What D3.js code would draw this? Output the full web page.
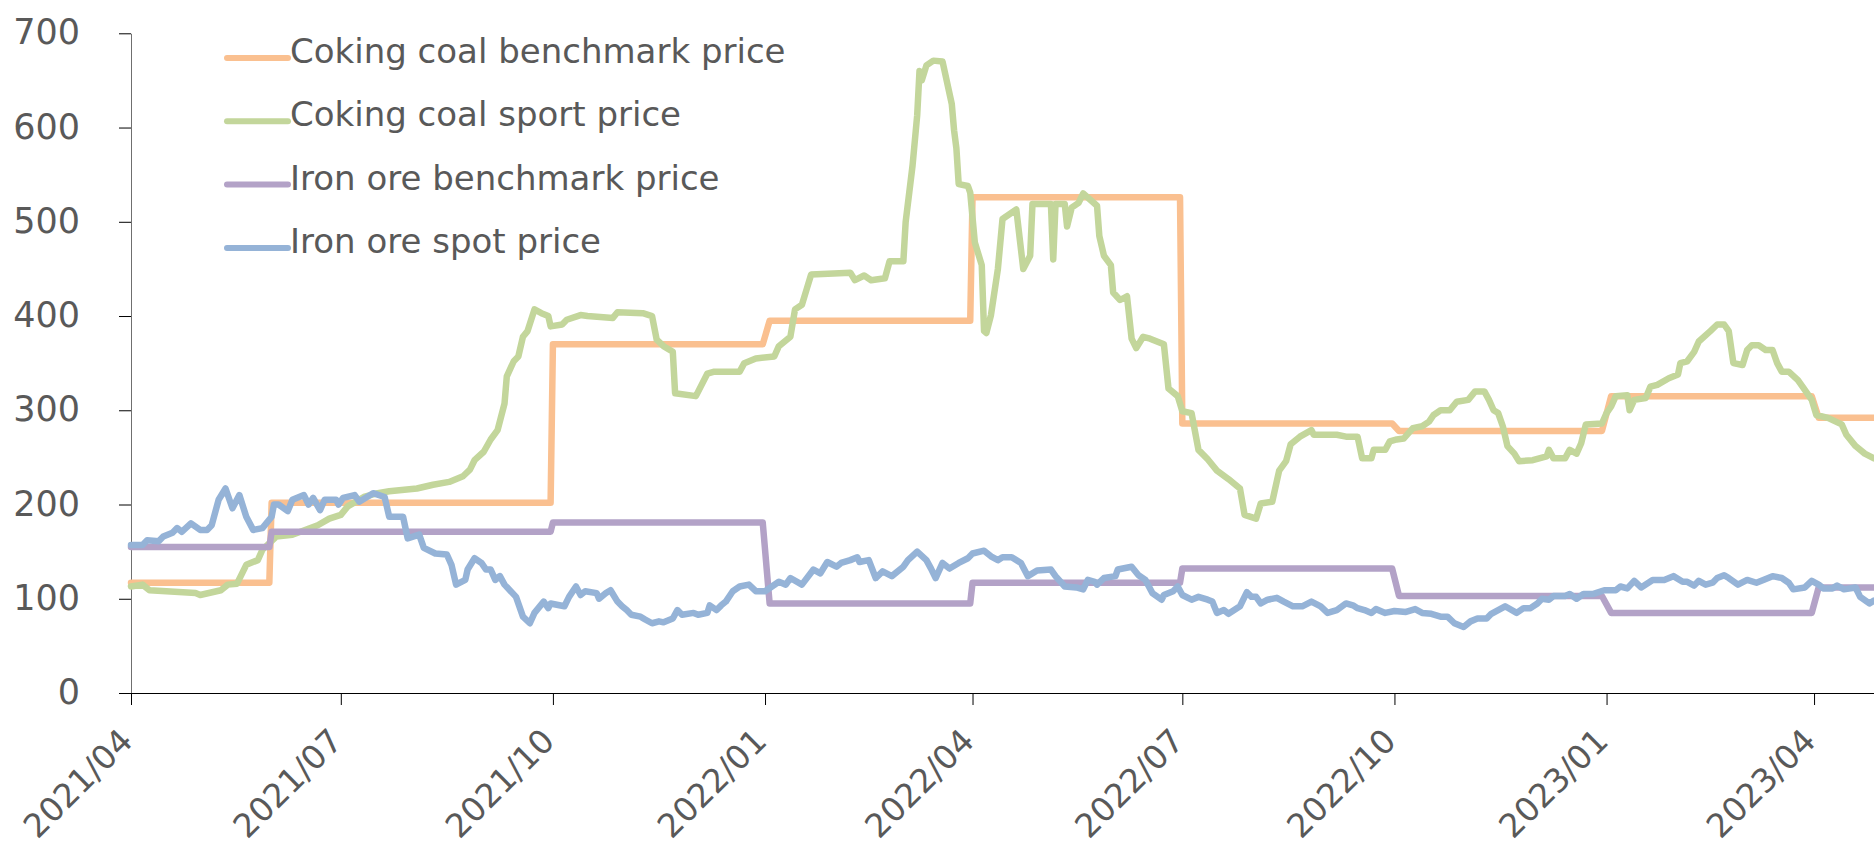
<!DOCTYPE html>
<html>
<head>
<meta charset="utf-8">
<script src="https://cdn.jsdelivr.net/npm/d3@7"></script>
<style>
  body { margin: 0; background: #fff; }
  svg { display: block; }
  .axis text { font-family: "DejaVu Sans", Verdana, sans-serif; font-size: 33px; fill: #595959; }
  .yaxis text { font-size: 35px; }
  .legend text { font-family: "DejaVu Sans", Verdana, sans-serif; font-size: 34px; fill: #595959; }
</style>
</head>
<body>
<svg id="chart"></svg>
<script>
var W = 1874, H = 847;
var m = [33.3, 0, 154, 131]; // top right bottom left

var seriesNames = ["Coking coal benchmark price", "Coking coal sport price",
                   "Iron ore benchmark price", "Iron ore spot price"];
var colors = ["#FAC090", "#C3D69B", "#B3A2C7", "#95B3D7"];
var yTicks = [0, 100, 200, 300, 400, 500, 600, 700];
var xTicks = ["2021-04-01", "2021-07-01", "2021-10-01", "2022-01-01", "2022-04-01",
              "2022-07-01", "2022-10-01", "2023-01-01", "2023-04-01"];
var xDomain = ["2021-04-01", "2023-04-27"];

var cokingBenchmark = [["2021-04-01",117],["2021-05-31",117],["2021-06-01",202],["2021-09-30",202],
  ["2021-10-01",370],["2021-12-31",370],["2022-01-03",395],["2022-03-31",395],["2022-04-01",526],
  ["2022-06-30",526],["2022-07-01",286],["2022-09-30",286],["2022-10-03",278],["2022-12-30",278],
  ["2023-01-03",315],["2023-03-31",315],["2023-04-03",292],["2023-04-27",292]];

var cokingSpot = [["2021-04-01",113],["2021-04-06",115],["2021-04-09",109],["2021-04-29",106],["2021-05-01",104],
  ["2021-05-10",109],["2021-05-13",115],["2021-05-17",116],["2021-05-21",136],["2021-05-26",141],["2021-05-28",152],
  ["2021-06-03",166],["2021-06-10",168],["2021-06-21",178],["2021-06-26",185],["2021-07-01",189],["2021-07-04",198],
  ["2021-07-11",208],["2021-07-17",212],["2021-07-22",214],["2021-08-03",217],["2021-08-10",221],["2021-08-17",224],
  ["2021-08-23",230],["2021-08-26",237],["2021-08-28",247],["2021-09-01",256],["2021-09-04",269],["2021-09-07",279],
  ["2021-09-10",307],["2021-09-11",336],["2021-09-14",352],["2021-09-16",357],["2021-09-18",378],["2021-09-20",384],
  ["2021-09-23",407],["2021-09-26",403],["2021-09-29",400],["2021-09-30",389],["2021-10-05",391],["2021-10-07",396],
  ["2021-10-13",401],["2021-10-16",400],["2021-10-27",398],["2021-10-29",404],["2021-11-09",403],["2021-11-13",400],
  ["2021-11-15",375],["2021-11-18",368],["2021-11-22",362],["2021-11-23",318],["2021-12-02",315],["2021-12-07",339],
  ["2021-12-10",341],["2021-12-21",341],["2021-12-23",350],["2021-12-28",355],["2022-01-05",357],["2022-01-07",368],
  ["2022-01-12",378],["2022-01-14",407],["2022-01-17",412],["2022-01-19",428],["2022-01-21",444],["2022-02-07",446],
  ["2022-02-09",438],["2022-02-13",443],["2022-02-16",438],["2022-02-22",440],["2022-02-24",458],["2022-03-02",458],
  ["2022-03-03",500],["2022-03-06",560],["2022-03-08",613],["2022-03-09",660],["2022-03-10",650],["2022-03-12",666],
  ["2022-03-15",671],["2022-03-19",670],["2022-03-23",625],["2022-03-24",597],["2022-03-25",578],["2022-03-26",540],
  ["2022-03-30",538],["2022-03-31",531],["2022-04-02",478],["2022-04-05",454],["2022-04-06",384],["2022-04-07",382],
  ["2022-04-09",401],["2022-04-12",450],["2022-04-14",503],["2022-04-20",513],["2022-04-23",450],["2022-04-26",464],
  ["2022-04-27",519],["2022-05-05",519],["2022-05-06",460],["2022-05-07",519],["2022-05-11",519],["2022-05-12",495],
  ["2022-05-14",515],["2022-05-17",520],["2022-05-19",530],["2022-05-25",517],["2022-05-26",485],["2022-05-28",464],
  ["2022-05-31",454],["2022-06-01",425],["2022-06-04",417],["2022-06-07",421],["2022-06-09",376],["2022-06-11",366],
  ["2022-06-14",378],["2022-06-17",376],["2022-06-23",370],["2022-06-25",323],["2022-06-29",315],["2022-07-01",299],
  ["2022-07-05",297],["2022-07-08",258],["2022-07-12",248],["2022-07-16",236],["2022-07-21",227],["2022-07-26",217],
  ["2022-07-28",189],["2022-08-02",185],["2022-08-04",201],["2022-08-09",203],["2022-08-12",236],["2022-08-15",246],
  ["2022-08-17",264],["2022-08-21",272],["2022-08-26",279],["2022-08-27",274],["2022-09-06",274],["2022-09-10",272],
  ["2022-09-15",272],["2022-09-17",249],["2022-09-21",249],["2022-09-22",258],["2022-09-27",258],["2022-09-29",267],
  ["2022-10-02",269],["2022-10-05",270],["2022-10-09",281],["2022-10-13",283],["2022-10-16",288],["2022-10-18",295],
  ["2022-10-21",300],["2022-10-25",300],["2022-10-28",309],["2022-11-02",311],["2022-11-05",320],["2022-11-09",320],
  ["2022-11-11",311],["2022-11-13",300],["2022-11-15",297],["2022-11-17",283],["2022-11-19",262],["2022-11-22",254],
  ["2022-11-24",246],["2022-11-30",247],["2022-12-06",251],["2022-12-07",258],["2022-12-09",249],["2022-12-14",249],
  ["2022-12-16",258],["2022-12-19",254],["2022-12-21",265],["2022-12-23",285],["2022-12-30",286],["2023-01-01",297],
  ["2023-01-03",304],["2023-01-05",315],["2023-01-10",316],["2023-01-11",300],["2023-01-13",311],["2023-01-18",313],
  ["2023-01-20",325],["2023-01-23",327],["2023-01-28",334],["2023-02-01",338],["2023-02-02",350],["2023-02-05",352],
  ["2023-02-08",362],["2023-02-10",373],["2023-02-15",384],["2023-02-18",391],["2023-02-21",391],["2023-02-23",384],
  ["2023-02-25",350],["2023-03-01",348],["2023-03-03",364],["2023-03-05",369],["2023-03-08",369],["2023-03-11",364],
  ["2023-03-14",364],["2023-03-16",350],["2023-03-18",341],["2023-03-21",341],["2023-03-25",332],["2023-03-27",325],
  ["2023-03-31",311],["2023-04-02",295],["2023-04-07",292],["2023-04-13",285],["2023-04-15",274],["2023-04-19",262],
  ["2023-04-23",254],["2023-04-27",249]];

var ironBenchmark = [["2021-04-01",155],["2021-05-31",155],["2021-06-01",171],["2021-09-30",171],
  ["2021-10-01",181],["2021-12-31",181],["2022-01-03",95],["2022-03-31",95],["2022-04-01",117],
  ["2022-06-30",117],["2022-07-01",132],["2022-09-30",132],["2022-10-03",103],["2022-12-30",103],
  ["2023-01-03",85],["2023-03-31",85],["2023-04-03",112],["2023-04-27",112]];

var ironSpot = [["2021-04-01",157],["2021-04-06",157],["2021-04-08",162],["2021-04-13",161],["2021-04-15",166],
  ["2021-04-19",170],["2021-04-21",175],["2021-04-23",171],["2021-04-27",180],["2021-05-01",173],["2021-05-04",173],
  ["2021-05-06",178],["2021-05-09",205],["2021-05-12",217],["2021-05-15",196],["2021-05-18",210],["2021-05-21",187],
  ["2021-05-24",173],["2021-05-28",175],["2021-06-01",187],["2021-06-02",200],["2021-06-04",200],["2021-06-08",193],
  ["2021-06-10",205],["2021-06-15",210],["2021-06-17",200],["2021-06-19",207],["2021-06-22",194],["2021-06-24",205],
  ["2021-06-29",205],["2021-06-30",200],["2021-07-02",207],["2021-07-07",210],["2021-07-09",203],["2021-07-15",212],
  ["2021-07-20",208],["2021-07-22",187],["2021-07-28",187],["2021-07-30",164],["2021-08-04",168],["2021-08-06",154],
  ["2021-08-11",148],["2021-08-16",147],["2021-08-18",136],["2021-08-20",115],["2021-08-24",120],["2021-08-25",131],
  ["2021-08-28",143],["2021-08-31",138],["2021-09-02",131],["2021-09-04",131],["2021-09-06",120],["2021-09-08",124],
  ["2021-09-10",115],["2021-09-15",102],["2021-09-18",81],["2021-09-21",74],["2021-09-23",85],["2021-09-27",97],
  ["2021-09-29",90],["2021-09-30",95],["2021-10-06",92],["2021-10-08",102],["2021-10-11",113],["2021-10-13",104],
  ["2021-10-15",108],["2021-10-20",106],["2021-10-21",100],["2021-10-24",106],["2021-10-26",109],["2021-10-29",97],
  ["2021-10-31",92],["2021-11-02",88],["2021-11-04",83],["2021-11-08",81],["2021-11-10",78],["2021-11-13",74],
  ["2021-11-16",76],["2021-11-18",75],["2021-11-22",79],["2021-11-24",88],["2021-11-26",83],["2021-12-01",85],
  ["2021-12-03",83],["2021-12-07",85],["2021-12-08",93],["2021-12-11",88],["2021-12-13",93],["2021-12-15",97],
  ["2021-12-18",108],["2021-12-21",113],["2021-12-25",115],["2021-12-28",108],["2022-01-01",108],["2022-01-04",113],
  ["2022-01-07",118],["2022-01-10",115],["2022-01-12",122],["2022-01-17",115],["2022-01-22",131],["2022-01-25",127],
  ["2022-01-28",139],["2022-02-01",134],["2022-02-03",138],["2022-02-07",141],["2022-02-10",144],["2022-02-11",139],
  ["2022-02-15",141],["2022-02-18",122],["2022-02-21",129],["2022-02-25",124],["2022-03-02",134],["2022-03-04",141],
  ["2022-03-08",150],["2022-03-12",141],["2022-03-14",132],["2022-03-16",122],["2022-03-19",138],["2022-03-22",132],
  ["2022-03-26",138],["2022-03-30",143],["2022-04-01",148],["2022-04-06",151],["2022-04-09",145],["2022-04-12",141],
  ["2022-04-14",144],["2022-04-18",144],["2022-04-22",138],["2022-04-25",124],["2022-04-29",130],["2022-05-05",131],
  ["2022-05-07",124],["2022-05-11",113],["2022-05-16",112],["2022-05-19",110],["2022-05-21",120],["2022-05-24",118],
  ["2022-05-25",115],["2022-05-28",122],["2022-06-02",124],["2022-06-03",131],["2022-06-09",134],["2022-06-12",125],
  ["2022-06-15",120],["2022-06-18",106],["2022-06-22",99],["2022-06-23",104],["2022-06-27",108],["2022-06-29",113],
  ["2022-07-01",104],["2022-07-05",99],["2022-07-08",102],["2022-07-12",99],["2022-07-14",97],["2022-07-16",85],
  ["2022-07-19",88],["2022-07-21",84],["2022-07-26",92],["2022-07-29",107],["2022-07-31",102],["2022-08-02",102],
  ["2022-08-04",95],["2022-08-07",99],["2022-08-11",101],["2022-08-14",97],["2022-08-18",92],["2022-08-22",92],
  ["2022-08-26",97],["2022-08-30",92],["2022-09-02",85],["2022-09-06",88],["2022-09-10",95],["2022-09-13",93],
  ["2022-09-15",90],["2022-09-18",88],["2022-09-21",85],["2022-09-23",89],["2022-09-27",85],["2022-10-01",87],
  ["2022-10-06",86],["2022-10-10",89],["2022-10-13",85],["2022-10-17",84],["2022-10-21",81],["2022-10-24",81],
  ["2022-10-27",74],["2022-10-31",70],["2022-11-03",76],["2022-11-06",79],["2022-11-10",79],["2022-11-12",84],
  ["2022-11-15",88],["2022-11-18",92],["2022-11-23",85],["2022-11-26",90],["2022-11-29",90],["2022-12-02",95],
  ["2022-12-04",100],["2022-12-07",99],["2022-12-09",103],["2022-12-14",103],["2022-12-16",105],["2022-12-19",100],
  ["2022-12-22",105],["2022-12-26",105],["2022-12-31",109],["2023-01-05",109],["2023-01-07",113],["2023-01-10",111],
  ["2023-01-13",119],["2023-01-16",112],["2023-01-21",120],["2023-01-26",120],["2023-01-30",124],["2023-02-03",118],
  ["2023-02-05",118],["2023-02-08",114],["2023-02-10",119],["2023-02-13",115],["2023-02-16",117],["2023-02-18",122],
  ["2023-02-21",125],["2023-02-23",122],["2023-02-27",115],["2023-03-03",120],["2023-03-07",117],["2023-03-10",120],
  ["2023-03-14",124],["2023-03-18",122],["2023-03-21",117],["2023-03-23",110],["2023-03-28",112],["2023-03-31",119],
  ["2023-04-03",115],["2023-04-05",111],["2023-04-09",111],["2023-04-11",114],["2023-04-14",110],["2023-04-19",112],
  ["2023-04-21",102],["2023-04-25",95],["2023-04-27",98]];

var parse = d3.timeParse("%Y-%m-%d");
var series = [cokingBenchmark, cokingSpot, ironBenchmark, ironSpot];

var svg = d3.select("#chart").attr("width", W).attr("height", H);
svg.append("rect").attr("width", W).attr("height", H).attr("fill", "#fff");

var x = d3.scaleTime()
    .domain(xDomain.map(parse))
    .range([m[3], W - m[1]]);
var y = d3.scaleLinear()
    .domain([0, 700])
    .range([H - m[2], m[0]]);

// y axis
var yAxis = svg.append("g")
    .attr("class", "axis yaxis")
    .attr("transform", "translate(" + m[3] + ",0)")
    .call(d3.axisLeft(y).tickValues(yTicks).tickSize(12).tickSizeOuter(0).tickPadding(39));
yAxis.select(".domain").attr("stroke", "#6f6f6f");
yAxis.selectAll(".tick line").attr("stroke", "#000");
yAxis.selectAll(".tick text").attr("dy", "0.3em");

// x axis
var xAxis = svg.append("g")
    .attr("class", "axis")
    .attr("transform", "translate(0," + y(0) + ")")
    .call(d3.axisBottom(x).tickValues(xTicks.map(parse)).tickSize(12).tickSizeOuter(0)
      .tickFormat(d3.timeFormat("%Y/%m")));
xAxis.select(".domain").attr("stroke", "#000");
xAxis.selectAll(".tick line").attr("stroke", "#000");
xAxis.selectAll(".tick text")
    .attr("x", 0).attr("y", 0).attr("dy", 0)
    .attr("transform", "translate(3,50) rotate(-45)")
    .style("text-anchor", "end");

// lines
var line = d3.line()
    .x(function(d) { return x(parse(d[0])); })
    .y(function(d) { return y(d[1]); });

svg.append("g").selectAll("path")
    .data(series)
  .enter().append("path")
    .attr("d", line)
    .attr("fill", "none")
    .attr("stroke", function(d, i) { return colors[i]; })
    .attr("stroke-width", 6.5)
    .attr("stroke-linejoin", "round")
    .attr("stroke-linecap", "round");

// legend
var legend = svg.append("g")
    .attr("class", "legend")
    .selectAll("g")
    .data(seriesNames)
  .enter().append("g")
    .attr("transform", function(d, i) { return "translate(227," + (58 + i * 63.3) + ")"; });

legend.append("line")
    .attr("x1", 0).attr("x2", 61)
    .attr("stroke", function(d, i) { return colors[i]; })
    .attr("stroke-width", 6)
    .attr("stroke-linecap", "round");

legend.append("text")
    .attr("x", 63)
    .attr("y", 5)
    .text(function(d) { return d; });
</script>
</body>
</html>
